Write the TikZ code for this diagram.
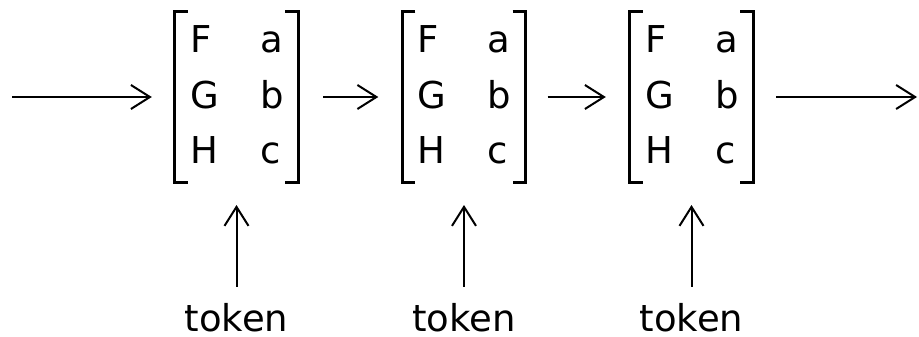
\documentclass[tikz,border=0pt]{standalone}
\usepackage{fontspec}
\setmainfont{DejaVu Sans}
\usetikzlibrary{arrows.meta}
\begin{document}
\begin{tikzpicture}[x=1pt,y=-1pt,
  ent/.style={anchor=base west,inner sep=0pt,font=\fontsize{37}{44}\selectfont},
  tok/.style={anchor=base,inner sep=0pt,font=\fontsize{37}{44}\selectfont},
  brk/.style={line width=3.2pt},
  conn/.style={line width=2pt,-{Straight Barb[length=19pt,width=24pt,line width=2pt]}},
  mbox/.style={draw=none,minimum width=123pt,minimum height=170pt,inner sep=0pt}]
\useasboundingbox (0,0) rectangle (919,337);
\coordinate (start) at (12,97);
\coordinate (stop) at (917,97);
\foreach \k/\dx in {1/0,2/227.5,3/455}{
  \node[mbox] (m\k) at (236.5+\dx,97) {};
  \draw[brk] ([xshift=13pt]m\k.north west) -- (m\k.north west) -- (m\k.south west) -- ([xshift=13pt]m\k.south west);
  \draw[brk] ([xshift=-13pt]m\k.north east) -- (m\k.north east) -- (m\k.south east) -- ([xshift=-13pt]m\k.south east);
  \node[ent] (f\k) at (190+\dx,53) {F};
  \node[ent] (a\k) at (260+\dx,53) {a};
  \node[ent] (g\k) at (190+\dx,108) {G};
  \node[ent] (b\k) at (260+\dx,108) {b};
  \node[ent] (h\k) at (190+\dx,163) {H};
  \node[ent] (c\k) at (260+\dx,163) {c};
  \node[tok] (t\k) at (236.5+\dx,331.5) {token};
  \coordinate (up\k) at (236.5+\dx,205);
  \draw[conn] ([yshift=16.5pt]t\k.north) -- (up\k);
}
\draw[conn] (start) -- ([xshift=-23pt]m1.west);
\draw[conn] ([xshift=25pt]m1.east) -- ([xshift=-24pt]m2.west);
\draw[conn] ([xshift=22pt]m2.east) -- ([xshift=-24pt]m3.west);
\draw[conn] ([xshift=23pt]m3.east) -- (stop);
\end{tikzpicture}
\end{document}
